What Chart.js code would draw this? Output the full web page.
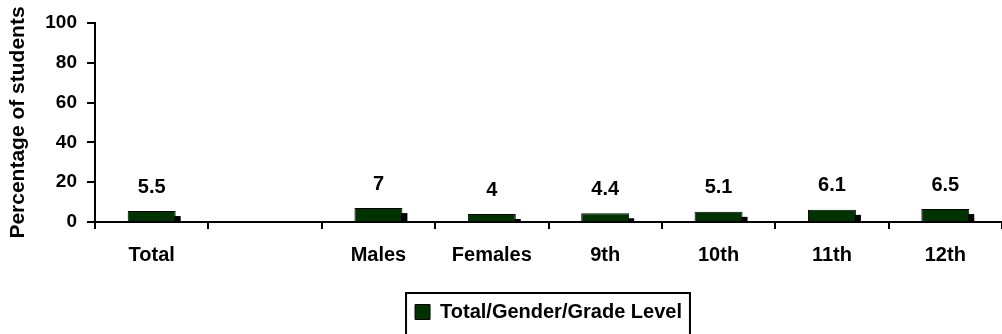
<!DOCTYPE html>
<html>
<head>
<meta charset="utf-8">
<script src="https://cdn.jsdelivr.net/npm/chart.js@4/dist/chart.umd.min.js"></script>
<style>
  html, body { margin: 0; padding: 0; background: #fff; }
  #wrap { width: 1002px; height: 334px; }
</style>
</head>
<body>
<div id="wrap"><canvas id="chart"></canvas></div>
<script>
const categories = ['Total', '', 'Males', 'Females', '9th', '10th', '11th', '12th'];
const percentValues = [5.5, null, 7, 4, 4.4, 5.1, 6.1, 6.5];
const yTicks = [0, 20, 40, 60, 80, 100];
const seriesName = 'Total/Gender/Grade Level';

const FONT = '"Liberation Sans", Arial, sans-serif';

// black drop shadow behind each bar, like the old 3D office charts
const barShadow = {
  id: 'barShadow',
  beforeDatasetsDraw(chart) {
    const ctx = chart.ctx;
    const meta = chart.getDatasetMeta(0);
    ctx.save();
    ctx.fillStyle = '#000';
    meta.data.forEach((bar, i) => {
      if (percentValues[i] == null) return;
      const w = bar.width;
      ctx.fillRect(bar.x - w / 2 + 5, bar.y + 5, w, bar.base - bar.y - 5);
    });
    ctx.restore();
  }
};

// value labels above the bars
const valueLabels = {
  id: 'valueLabels',
  afterDatasetsDraw(chart) {
    const ctx = chart.ctx;
    const meta = chart.getDatasetMeta(0);
    ctx.save();
    ctx.font = 'bold 20px ' + FONT;
    ctx.fillStyle = '#000';
    ctx.textAlign = 'center';
    ctx.textBaseline = 'middle';
    meta.data.forEach((bar, i) => {
      if (percentValues[i] == null) return;
      ctx.fillText(String(percentValues[i]), bar.x, bar.y - 24);
    });
    ctx.restore();
  }
};

// frame round the legend
const legendFrame = {
  id: 'legendFrame',
  afterDraw(chart) {
    const lg = chart.legend;
    if (!lg || !lg.legendHitBoxes.length) return;
    const hb = lg.legendHitBoxes[0];
    const ctx = chart.ctx;
    ctx.save();
    ctx.strokeStyle = '#000';
    ctx.lineWidth = 2;
    ctx.strokeRect(hb.left - 9, hb.top - 9, hb.width + 17, hb.height + 40);
    ctx.restore();
  }
};

new Chart(document.getElementById('chart'), {
  type: 'bar',
  data: {
    labels: categories,
    datasets: [{
      label: seriesName,
      data: percentValues,
      backgroundColor: '#003300',
      borderColor: '#000',
      borderWidth: 1,
      categoryPercentage: 1,
      barPercentage: 0.423
    }]
  },
  options: {
    responsive: true,
    maintainAspectRatio: false,
    animation: false,
    layout: { padding: { top: 23, right: 0, left: 6, bottom: 2 } },
    plugins: {
      legend: {
        position: 'bottom',
        fullSize: false,
        labels: {
          color: '#000',
          font: { family: FONT, size: 20, weight: 'bold' },
          boxWidth: 15,
          boxHeight: 15,
          padding: 10
        }
      },
      tooltip: { enabled: false }
    },
    scales: {
      x: {
        grid: {
          display: true,
          drawOnChartArea: false,
          drawTicks: true,
          tickLength: 7,
          color: '#000',
          lineWidth: 2
        },
        border: { display: true, color: '#000', width: 2 },
        ticks: {
          color: '#000',
          padding: 14,
          maxRotation: 0,
          autoSkip: false,
          font: { family: FONT, size: 20, weight: 'bold' }
        },
        afterFit(scale) { scale.height = 70; }
      },
      y: {
        min: 0,
        max: 100,
        afterBuildTicks(scale) { scale.ticks = yTicks.map(v => ({ value: v })); },
        grid: {
          display: true,
          drawOnChartArea: false,
          drawTicks: true,
          tickLength: 8,
          color: '#000',
          lineWidth: 2
        },
        border: { display: true, color: '#000', width: 2 },
        ticks: {
          color: '#000',
          padding: 10,
          font: { family: FONT, size: 19, weight: 'bold' }
        },
        title: {
          display: true,
          text: 'Percentage of students',
          color: '#000',
          padding: { top: 0, bottom: 0 },
          font: { family: FONT, size: 21, weight: 'bold' }
        },
        afterFit(scale) { scale.width = 89; }
      }
    }
  },
  plugins: [barShadow, valueLabels, legendFrame]
});
</script>
</body>
</html>
